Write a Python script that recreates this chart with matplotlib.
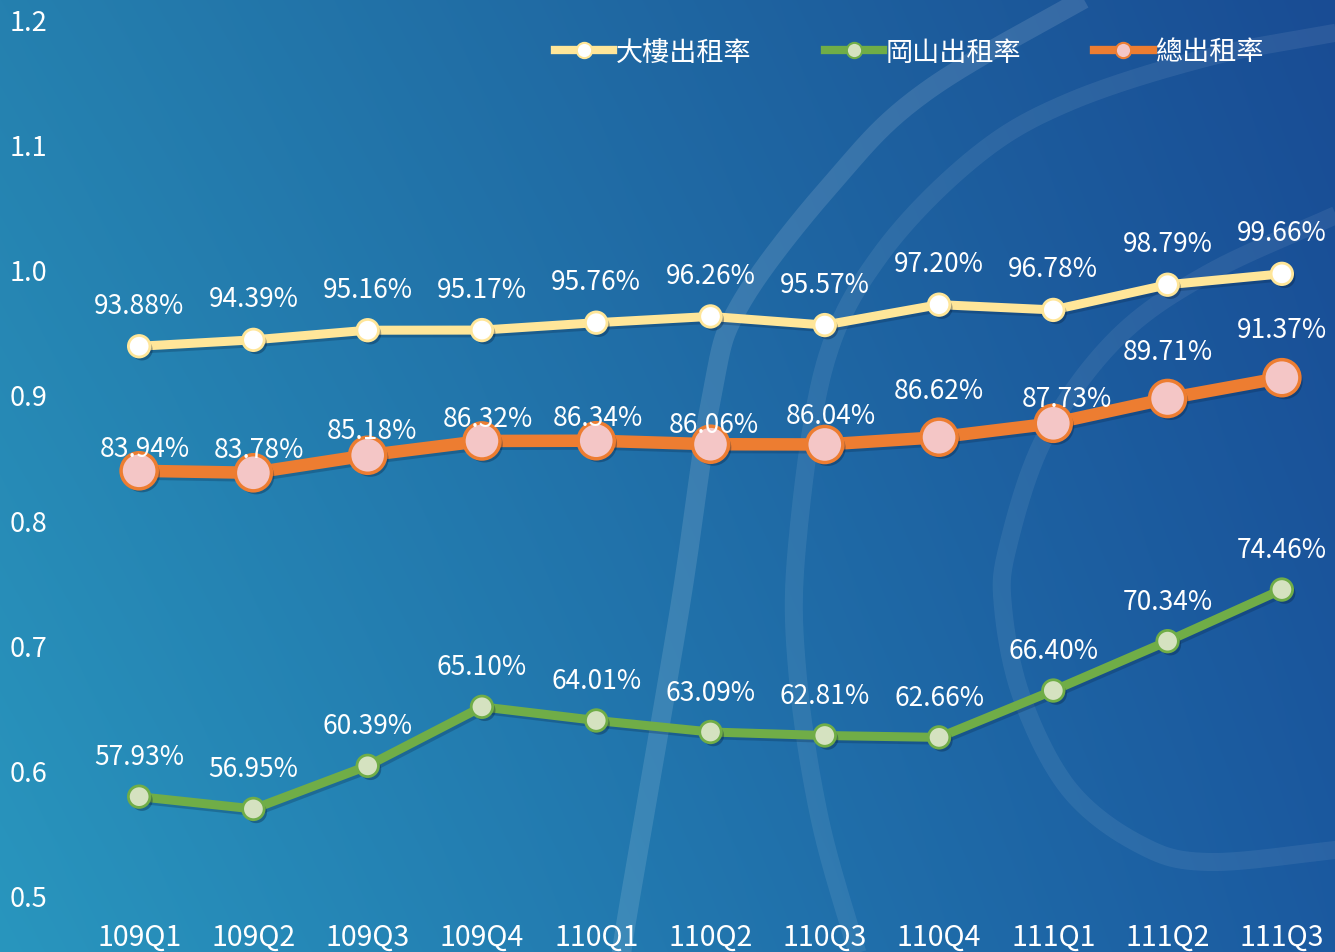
import numpy as np
import matplotlib
matplotlib.use('Agg')
import matplotlib.pyplot as plt
import matplotlib.patheffects as pe
from matplotlib.lines import Line2D

plt.rcParams['font.family'] = ['Noto Sans CJK TC', 'DejaVu Sans']
plt.rcParams['font.weight'] = 'light'

# ---------------- data ----------------
quarters = ['109Q1', '109Q2', '109Q3', '109Q4', '110Q1', '110Q2',
            '110Q3', '110Q4', '111Q1', '111Q2', '111Q3']
building = [0.9388, 0.9439, 0.9516, 0.9517, 0.9576, 0.9626,
            0.9557, 0.9720, 0.9678, 0.9879, 0.9966]
okayama = [0.5793, 0.5695, 0.6039, 0.6510, 0.6401, 0.6309,
           0.6281, 0.6266, 0.6640, 0.7034, 0.7446]
total = [0.8394, 0.8378, 0.8518, 0.8632, 0.8634, 0.8606,
         0.8604, 0.8662, 0.8773, 0.8971, 0.9137]
series_names = ['大樓出租率', '岡山出租率', '總出租率']
yticks = [0.5, 0.6, 0.7, 0.8, 0.9, 1.0, 1.1, 1.2]
ytick_labels = ['0.5', '0.6', '0.7', '0.8', '0.9', '1.0', '1.1', '1.2']

# label offsets (pixels) for the total-rate labels
total_label_dx = [6, 6, 4, 6, 2, 3, 6, 0, 14, 0, 0]
total_label_dy = [22, 23, 25, 22, 23, 20, 29, 47, 25, 47, 48]

W, H = 1335, 953
fig = plt.figure(figsize=(W / 100, H / 100), dpi=100)

# ---------------- background ----------------
bg = fig.add_axes([0, 0, 1, 1])
xx = np.linspace(0, 1, W)[None, :, None]
yy = np.linspace(0, 1, H)[:, None, None]
TL = np.array([37, 128, 175]) / 255
BL = np.array([41, 150, 190]) / 255
TR = np.array([25, 76, 148]) / 255
BR = np.array([27, 90, 160]) / 255
grad = (TL * (1 - xx) * (1 - yy) + TR * xx * (1 - yy)
        + BL * (1 - xx) * yy + BR * xx * yy)
bg.imshow(grad, extent=[0, W, H, 0], aspect='auto', interpolation='bilinear')
bg.set_xlim(0, W)
bg.set_ylim(H, 0)
bg.axis('off')


def catmull(pts, n=40):
    p = np.asarray(pts, float)
    p = np.vstack([2 * p[0] - p[1], p, 2 * p[-1] - p[-2]])
    out = []
    for i in range(1, len(p) - 2):
        p0, p1, p2, p3 = p[i - 1], p[i], p[i + 1], p[i + 2]
        t = np.linspace(0, 1, n)[:, None]
        seg = 0.5 * ((2 * p1) + (-p0 + p2) * t + (2 * p0 - 5 * p1 + 4 * p2 - p3) * t ** 2
                     + (-p0 + 3 * p1 - 3 * p2 + p3) * t ** 3)
        out.append(seg)
    return np.vstack(out)


curveA = [(1110, -15), (928, 91), (834, 182), (741, 304), (712, 395),
          (680, 608), (628, 912), (620, 970)]
curveB = [(1345, 32), (1209, 58), (1069, 103), (975, 158), (881, 255),
          (825, 365), (797, 547), (797, 669), (820, 821), (862, 970)]
curveC = [(1345, 212), (1209, 274), (1116, 340), (1045, 438), (1008, 547),
          (1003, 608), (1022, 699), (1069, 790), (1139, 845), (1209, 863),
          (1345, 850)]
for c, a, lw in [(curveA, 0.12, 14), (curveB, 0.08, 13), (curveC, 0.07, 13)]:
    s = catmull(c)
    bg.plot(s[:, 0], s[:, 1], color='white', alpha=a, lw=lw,
            solid_capstyle='butt')

# ---------------- main axes ----------------
ax = fig.add_axes([82 / W, 56 / H, 1257 / W, 877 / H])
ax.patch.set_alpha(0)
ax.set_xlim(-0.5, 10.5)
ax.set_ylim(0.5, 1.2)
for sp in ax.spines.values():
    sp.set_visible(False)
x = np.arange(len(quarters))
ax.set_xticks(x, quarters)
ax.set_yticks(yticks, ytick_labels)
ax.tick_params(axis='both', length=0, colors='white')
ax.tick_params(axis='x', labelsize=20.5, pad=18.5)
ax.tick_params(axis='y', labelsize=19.5, pad=25)

line_shadow = [pe.SimpleLineShadow(offset=(1.5, -2), alpha=0.25,
                                   shadow_color='#06203f'), pe.Normal()]
mark_shadow = [pe.SimplePatchShadow(offset=(2, -2.5), alpha=0.35,
                                    shadow_rgbFace='#06203f'), pe.Normal()]

Y_LINE = '#FFE699'
G_LINE = '#70AD47'
O_LINE = '#ED7D31'

ax.plot(x, building, color=Y_LINE, lw=6.5, zorder=3, path_effects=line_shadow)
ax.plot(x, building, ls='none', marker='o', ms=15.5, mfc='white', mec=Y_LINE,
        mew=2, zorder=4, path_effects=mark_shadow)

ax.plot(x, okayama, color=G_LINE, lw=6.5, zorder=3, path_effects=line_shadow)
ax.plot(x, okayama, ls='none', marker='o', ms=15.5, mfc='#D5E2C0', mec=G_LINE,
        mew=2, zorder=4, path_effects=mark_shadow)

ax.plot(x, total, color=O_LINE, lw=9, zorder=3, path_effects=line_shadow)
ax.plot(x, total, ls='none', marker='o', ms=26, mfc='#F4C6C6', mec=O_LINE,
        mew=2.5, zorder=4, path_effects=mark_shadow)

for i, v in enumerate(building):
    ax.annotate(f'{v * 100:.2f}%', (i, v), xytext=(0, 41), textcoords='offset pixels',
                ha='center', va='center', color='white', fontsize=19, zorder=6)
for i, v in enumerate(okayama):
    ax.annotate(f'{v * 100:.2f}%', (i, v), xytext=(0, 40), textcoords='offset pixels',
                ha='center', va='center', color='white', fontsize=19, zorder=6)
for i, v in enumerate(total):
    ax.annotate(f'{v * 100:.2f}%', (i, v),
                xytext=(total_label_dx[i], total_label_dy[i]), textcoords='offset pixels',
                ha='center', va='center', color='white', fontsize=19, zorder=6)

# ---------------- legend ----------------
handles = [
    Line2D([], [], color=Y_LINE, lw=6, marker='o', ms=11, mfc='white', mec=Y_LINE, mew=1.5),
    Line2D([], [], color=G_LINE, lw=6, marker='o', ms=11, mfc='#D5E2C0', mec=G_LINE, mew=1.5),
    Line2D([], [], color=O_LINE, lw=6, marker='o', ms=11, mfc='#F4C6C6', mec=O_LINE, mew=1.5),
]
fig.legend(handles, series_names, loc='center left', bbox_to_anchor=(555 / W, 1 - 53 / H),
           ncol=3, frameon=False, fontsize=19.5, labelcolor='white',
           handlelength=2.15, handletextpad=0.1, columnspacing=2.7,
           borderpad=0, borderaxespad=0)

fig.savefig('out.png', dpi=100)
